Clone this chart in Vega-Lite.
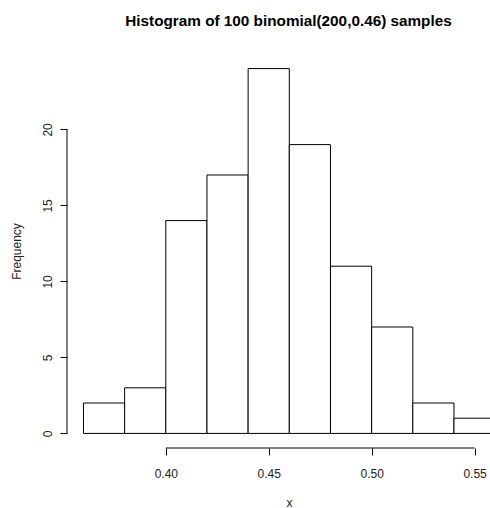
{
  "$schema": "https://vega.github.io/schema/vega-lite/v6.json",
  "autosize": {"type": "none"},
  "padding": {"left": 67, "top": 54, "right": 0, "bottom": 60},
  "width": 423,
  "height": 394,
  "background": "white",
  "config": {
    "view": {"stroke": null},
    "font": "Liberation Sans",
    "axis": {"grid": false, "domain": false, "tickColor": "black", "tickSize": 7, "labelFont": "Liberation Sans", "labelFontSize": 12, "labelColor": "#222", "titleFont": "Liberation Sans", "titleFontSize": 12, "titleFontWeight": "normal", "titleColor": "#222"}
  },
  "title": {"text": "Histogram of 100 binomial(200,0.46) samples", "fontSize": 15.3, "fontWeight": "bold", "font": "Liberation Sans", "color": "black", "anchor": "middle", "dx": 10, "offset": 25},
  "datasets": {
    "bins": [
      {"start": 0.36, "end": 0.38, "count": 2},
      {"start": 0.38, "end": 0.40, "count": 3},
      {"start": 0.40, "end": 0.42, "count": 14},
      {"start": 0.42, "end": 0.44, "count": 17},
      {"start": 0.44, "end": 0.46, "count": 24},
      {"start": 0.46, "end": 0.48, "count": 19},
      {"start": 0.48, "end": 0.50, "count": 11},
      {"start": 0.50, "end": 0.52, "count": 7},
      {"start": 0.52, "end": 0.54, "count": 2},
      {"start": 0.54, "end": 0.56, "count": 1}
    ],
    "axislines": [
      {"x": 0.40, "x2": 0.55, "y": -0.96, "y2": -0.96},
      {"x": 0.352, "x2": 0.352, "y": 0, "y2": 20}
    ]
  },
  "layer": [
    {
      "data": {"name": "bins"},
      "mark": {"type": "bar", "fill": "white", "stroke": "black", "strokeWidth": 1, "clip": true},
      "encoding": {
        "x": {"field": "start", "type": "quantitative", "scale": {"domain": [0.352, 0.5575], "nice": false, "zero": false},
          "axis": {"values": [0.40, 0.45, 0.50, 0.55], "format": ".2f", "labelPadding": 13, "title": "x", "titleX": 222, "titleY": 54, "titleBaseline": "middle"}},
        "x2": {"field": "end"},
        "y": {"field": "count", "type": "quantitative", "scale": {"domain": [-0.96, 24.96], "nice": false, "zero": false},
          "axis": {"values": [0, 5, 10, 15, 20], "labelAngle": -90, "labelPadding": 13, "labelAlign": "center", "labelBaseline": "middle", "title": "Frequency", "titleX": -51, "titleBaseline": "middle", "titleAngle": -90}},
        "y2": {"datum": 0}
      }
    },
    {
      "data": {"name": "axislines"},
      "mark": {"type": "rule", "color": "black", "strokeWidth": 1},
      "encoding": {
        "x": {"field": "x", "type": "quantitative"},
        "x2": {"field": "x2"},
        "y": {"field": "y", "type": "quantitative"},
        "y2": {"field": "y2"}
      }
    }
  ]
}
